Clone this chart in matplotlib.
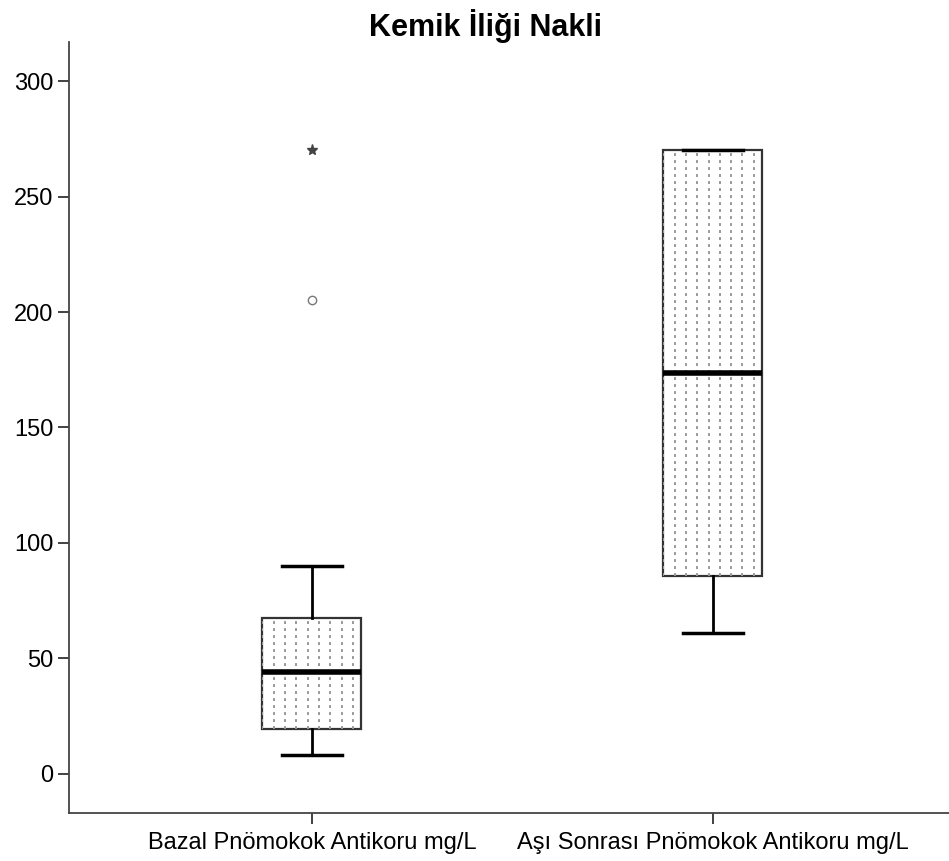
import numpy as np
import matplotlib.pyplot as plt

plt.rcParams['font.family'] = ['Liberation Sans', 'DejaVu Sans']

groups = ["Bazal Pnömokok Antikoru mg/L", "Aşı Sonrası Pnömokok Antikoru mg/L"]
whislo = [8.2, 61.0]
q1 = [19.5, 85.7]
med = [44.2, 173.6]
q3 = [67.5, 270.1]
whishi = [90.0, 270.1]
# outliers (circle) and extremes (star) per group
outliers = [[205.2], []]
extremes = [[270.1], []]

fig = plt.figure(figsize=(9.49, 8.61), dpi=100)
ax = fig.add_axes([69 / 949, 1 - 813 / 861, 1 - 69 / 949, (813 - 42) / 861])

stats = []
for i, g in enumerate(groups):
    stats.append(dict(label=g, whislo=whislo[i], q1=q1[i], med=med[i],
                      q3=q3[i], whishi=whishi[i], fliers=[]))

pos = [1, 2]
bw = 0.247
bp = ax.bxp(stats, positions=pos, widths=bw, patch_artist=True,
            showfliers=False,
            boxprops=dict(facecolor="white", edgecolor="#333333", linewidth=1.6),
            medianprops=dict(color="black", linewidth=4, zorder=4),
            whiskerprops=dict(color="black", linewidth=2),
            capprops=dict(color="black", linewidth=2.5, zorder=4),
            capwidths=0.148)

# dotted vertical fill inside each box
for i, box in enumerate(bp["boxes"]):
    x0 = pos[i] - bw / 2
    for x in np.arange(x0, x0 + bw, 0.0282):
        ln, = ax.plot([x, x], [q1[i], q3[i]], color="#999999", lw=1.4,
                      linestyle=(0, (1.5, 2.1)), zorder=2.5)
        ln.set_clip_path(box)

for i in range(len(groups)):
    for v in outliers[i]:
        ax.plot(pos[i], v, marker="o", ms=6, mfc="white", mec="#777777", mew=1, ls="none")
    for v in extremes[i]:
        ax.plot(pos[i], v, marker="*", ms=8, mfc="#444444", mec="#444444", ls="none")

ax.set_xlim(0.394, 2.589)
ax.set_ylim(-16.9, 316.9)
ax.set_yticks([0, 50, 100, 150, 200, 250, 300])
ax.set_xticks(pos)
ax.set_xticklabels(groups)
ax.spines["top"].set_visible(False)
ax.spines["right"].set_visible(False)
for s in ["left", "bottom"]:
    ax.spines[s].set_linewidth(1.3)
    ax.spines[s].set_color("#444444")
ax.tick_params(axis="both", labelsize=17, length=8, width=1.3, color="#333333")
ax.tick_params(axis="x", pad=6)
ax.tick_params(axis="y", pad=3)

fig.suptitle("Kemik İliği Nakli", fontsize=22, fontweight="bold", x=0.512, y=0.99)

fig.savefig("out.png", dpi=100)
